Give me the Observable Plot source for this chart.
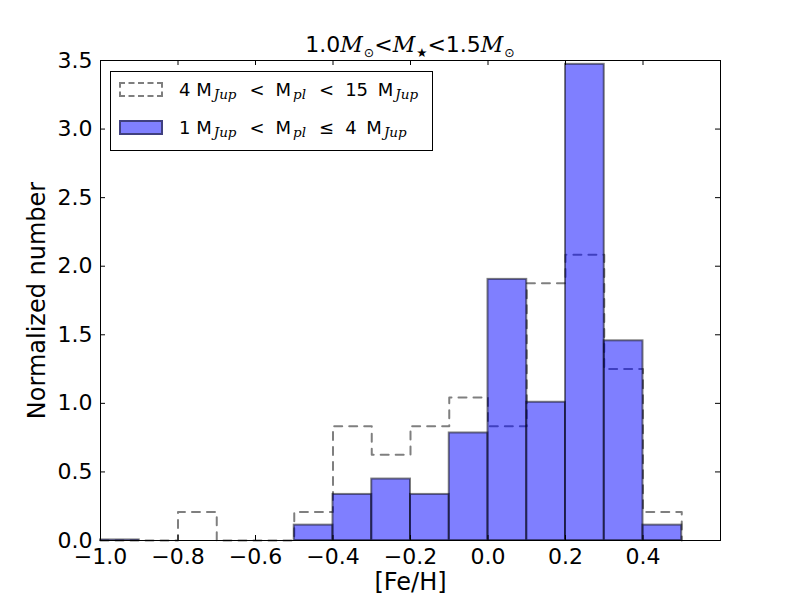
<!DOCTYPE html>
<html>
<head>
<meta charset="utf-8">
<script src="https://cdn.jsdelivr.net/npm/d3@7"></script>
<script src="https://cdn.jsdelivr.net/npm/@observablehq/plot@0.6"></script>
<style>
  html, body { margin: 0; padding: 0; background: white; }
  #wrap { position: relative; width: 800px; height: 600px; font-family: "DejaVu Sans", sans-serif; }
  .mi { font-family: "DejaVu Serif", serif; font-style: italic; }
  #title { position: absolute; left: 0; width: 820px; top: 32px; text-align: center; font-size: 22px; line-height: 26px; white-space: nowrap; }
  #title .tsub { font-size: 12.5px; position: relative; top: 5px; margin-left: 1px; }
  #legend { position: absolute; left: 110px; top: 71px; width: 321px; height: 78px; border: 1px solid black; background: white; }
  .patch { position: absolute; left: 8px; width: 40px; height: 11px; box-sizing: content-box; }
  .ltext { position: absolute; left: 68px; font-size: 18px; line-height: 22px; white-space: nowrap; }
  .ms { font-family: "DejaVu Serif", serif; font-style: italic; font-size: 13.5px; position: relative; top: 3px; margin-left: 2px; }
  .op { display: inline-block; margin: 0 11px 0 13px; }
  .mm { margin-left: 4px; }
</style>
</head>
<body>
<div id="wrap"></div>
<script>
// bin left edges ([Fe/H]), bin width 0.1
const binEdges = [-1.0, -0.9, -0.8, -0.7, -0.6, -0.5, -0.4, -0.3, -0.2, -0.1, 0.0, 0.1, 0.2, 0.3, 0.4];
const binWidth = 0.1;
// 4 MJup < Mpl < 15 MJup (dashed step)
const heavyValues = [0, 0, 0.208, 0, 0, 0.208, 0.833, 0.625, 0.833, 1.042, 0.833, 1.875, 2.083, 1.25, 0.208];
// 1 MJup < Mpl <= 4 MJup (blue bars)
const lightValues = [0.004, 0, 0, 0, 0, 0.112, 0.336, 0.448, 0.336, 0.784, 1.904, 1.008, 3.472, 1.456, 0.112];
const xTicks = [-1.0, -0.8, -0.6, -0.4, -0.2, 0.0, 0.2, 0.4];
const yTicks = [0.0, 0.5, 1.0, 1.5, 2.0, 2.5, 3.0, 3.5];

const bars = binEdges.map((e, i) => ({x0: e, x1: e + binWidth, v: lightValues[i]})).filter(d => d.v > 0);
const stepPts = [{x: binEdges[0], y: 0}]
  .concat(binEdges.map((e, i) => ({x: e, y: heavyValues[i]})))
  .concat([{x: binEdges[binEdges.length - 1] + binWidth, y: 0}]);

const fmt = d3.format(".1f");

const chart = Plot.plot({
  width: 800,
  height: 600,
  marginLeft: 100,
  marginRight: 80,
  marginTop: 60,
  marginBottom: 60,
  style: {fontFamily: "DejaVu Sans", fontSize: "22px", color: "black", background: "white"},
  x: {domain: [-1.0, 0.6]},
  y: {domain: [0, 3.5]},
  marks: [
    Plot.line(stepPts, {x: "x", y: "y", curve: "step-after", stroke: "black", strokeOpacity: 0.5, strokeWidth: 2, strokeDasharray: "8,7"}),
    Plot.rectY(bars, {x1: "x0", x2: "x1", y: "v", fill: "#0000ff", fillOpacity: 0.5, stroke: "black", strokeOpacity: 0.5, strokeWidth: 2}),
    Plot.frame({stroke: "black", strokeWidth: 1}),
    Plot.ruleX(xTicks, {x: d => d, insetTop: 475, stroke: "black"}),
    Plot.ruleX(xTicks, {x: d => d, insetBottom: 475, stroke: "black"}),
    Plot.ruleY(yTicks, {y: d => d, insetRight: 615, stroke: "black"}),
    Plot.ruleY(yTicks, {y: d => d, insetLeft: 615, stroke: "black"}),
    Plot.axisX(xTicks, {anchor: "bottom", tickSize: 0, tickPadding: 8, tickFormat: fmt, label: null, fontSize: 22}),
    Plot.axisY(yTicks, {anchor: "left", tickSize: 0, tickPadding: 8, tickFormat: fmt, label: null, fontSize: 22}),
    Plot.text(["[Fe/H]"], {frameAnchor: "bottom", dy: 49, fontSize: 24}),
    Plot.text(["Normalized number"], {frameAnchor: "left", textAnchor: "middle", rotate: -90, dx: -63, fontSize: 24})
  ]
});

const wrap = document.getElementById("wrap");
wrap.appendChild(chart);

const title = document.createElement("div");
title.id = "title";
title.innerHTML = '1.0<span class="mi">M</span><span class="tsub">⊙</span>&lt;<span class="mi">M</span><span class="tsub">★</span>&lt;1.5<span class="mi">M</span><span class="tsub">⊙</span>';
wrap.appendChild(title);

const legend = document.createElement("div");
legend.id = "legend";
legend.innerHTML =
  '<div class="patch" style="top:10px; border:2px dashed rgba(0,0,0,0.5);"></div>' +
  '<div class="ltext" style="top:7px;">4 M<span class="ms">Jup</span><span class="op">&lt;</span>M<span class="ms">pl</span><span class="op">&lt;</span>15 <span class="mm">M</span><span class="ms">Jup</span></div>' +
  '<div class="patch" style="top:48px; background:#8080ff; border:2px solid rgba(0,0,0,0.5);"></div>' +
  '<div class="ltext" style="top:45px;">1 M<span class="ms">Jup</span><span class="op">&lt;</span>M<span class="ms">pl</span><span class="op">≤</span>4 <span class="mm">M</span><span class="ms">Jup</span></div>';
wrap.appendChild(legend);
</script>
</body>
</html>
